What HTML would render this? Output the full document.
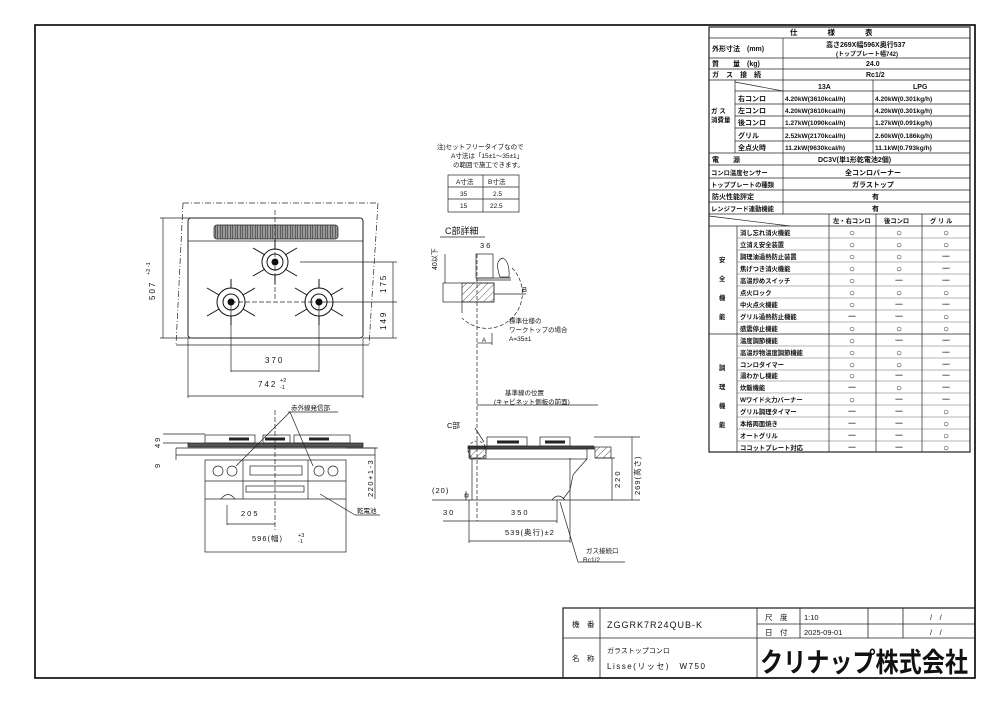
<!DOCTYPE html>
<html><head><meta charset="utf-8"><style>
html,body{margin:0;padding:0;background:#fff}
svg{display:block}
text{font-family:"Liberation Sans","Noto Sans CJK JP",sans-serif;fill:#111}
</style></head><body>
<svg width="1000" height="707" viewBox="0 0 1000 707" xmlns="http://www.w3.org/2000/svg">
<defs>
<pattern id="h" width="5" height="5" patternUnits="userSpaceOnUse" patternTransform="rotate(45)"><line x1="0" y1="0" x2="0" y2="5" stroke="#333" stroke-width="0.8"/></pattern>
<pattern id="v" width="2.5" height="4" patternUnits="userSpaceOnUse"><rect width="2.5" height="4" fill="#999"/><line x1="0" y1="0" x2="0" y2="4" stroke="#222" stroke-width="1"/></pattern>
</defs>
<rect x="35" y="25" width="940" height="653" fill="none" stroke="#000" stroke-width="1.6"/>

<!-- SPEC TABLE -->
<g stroke="#222" stroke-width="0.7" fill="none">
<rect x="709" y="27" width="261" height="425" stroke-width="1.2"/>
<line x1="709" y1="38" x2="970" y2="38"/><line x1="709" y1="58" x2="970" y2="58"/>
<line x1="709" y1="69" x2="970" y2="69"/><line x1="709" y1="80" x2="970" y2="80"/>
<line x1="735" y1="91" x2="970" y2="91"/><line x1="735" y1="104" x2="970" y2="104"/>
<line x1="735" y1="116" x2="970" y2="116"/><line x1="735" y1="128" x2="970" y2="128"/>
<line x1="735" y1="141" x2="970" y2="141"/><line x1="709" y1="153" x2="970" y2="153"/>
<line x1="709" y1="165" x2="970" y2="165"/><line x1="709" y1="178" x2="970" y2="178"/>
<line x1="709" y1="190" x2="970" y2="190"/><line x1="709" y1="202" x2="970" y2="202"/>
<line x1="709" y1="214" x2="970" y2="214"/><line x1="709" y1="226" x2="970" y2="226"/>
<line x1="783" y1="38" x2="783" y2="214"/><line x1="735" y1="80" x2="735" y2="153"/>
<line x1="873" y1="80" x2="873" y2="153"/>
<line x1="735" y1="82" x2="783" y2="91"/>
<line x1="709" y1="216" x2="790" y2="226"/>
<line x1="709" y1="334" x2="970" y2="334"/>
<line x1="737" y1="226" x2="737" y2="452"/><line x1="829" y1="214" x2="829" y2="452"/>
<line x1="876" y1="214" x2="876" y2="452"/><line x1="922" y1="214" x2="922" y2="452"/>
</g>
<g stroke="#444" stroke-width="0.4">
<line x1="737" y1="238" x2="970" y2="238"/><line x1="737" y1="250" x2="970" y2="250"/>
<line x1="737" y1="262" x2="970" y2="262"/><line x1="737" y1="274" x2="970" y2="274"/>
<line x1="737" y1="286" x2="970" y2="286"/><line x1="737" y1="298" x2="970" y2="298"/>
<line x1="737" y1="310" x2="970" y2="310"/><line x1="737" y1="322" x2="970" y2="322"/>
<line x1="737" y1="346" x2="970" y2="346"/><line x1="737" y1="358" x2="970" y2="358"/>
<line x1="737" y1="370" x2="970" y2="370"/><line x1="737" y1="381" x2="970" y2="381"/>
<line x1="737" y1="393" x2="970" y2="393"/><line x1="737" y1="405" x2="970" y2="405"/>
<line x1="737" y1="417" x2="970" y2="417"/><line x1="737" y1="429" x2="970" y2="429"/>
<line x1="737" y1="441" x2="970" y2="441"/>
</g>
<g font-size="7" font-weight="bold">
<text x="790" y="35" font-size="7.5">仕　　　　様　　　　表</text>
<text x="712" y="51">外形寸法　(mm)</text>
<text x="826" y="47" font-size="7">高さ269X幅596X奥行537</text>
<text x="836" y="56" font-size="6">(トッププレート幅742)</text>
<text x="712" y="66">質　　量　(kg)</text><text x="866" y="66">24.0</text>
<text x="712" y="77">ガ　ス　接　続</text><text x="866" y="77">Rc1/2</text>
<text x="818" y="89">13A</text><text x="913" y="89">LPG</text>
<text x="711" y="113" font-size="6.5">ガ ス</text><text x="711" y="122" font-size="6.5">消費量</text>
<text x="738" y="101">右コンロ</text><text x="738" y="113">左コンロ</text><text x="738" y="125">後コンロ</text><text x="738" y="138">グリル</text><text x="738" y="150">全点火時</text>
<text x="785" y="101" font-size="6.6">4.20kW(3610kcal/h)</text><text x="875" y="101" font-size="6.6">4.20kW(0.301kg/h)</text>
<text x="785" y="113" font-size="6.6">4.20kW(3610kcal/h)</text><text x="875" y="113" font-size="6.6">4.20kW(0.301kg/h)</text>
<text x="785" y="125" font-size="6.6">1.27kW(1090kcal/h)</text><text x="875" y="125" font-size="6.6">1.27kW(0.091kg/h)</text>
<text x="785" y="138" font-size="6.6">2.52kW(2170kcal/h)</text><text x="875" y="138" font-size="6.6">2.60kW(0.186kg/h)</text>
<text x="785" y="150" font-size="6.6">11.2kW(9630kcal/h)</text><text x="875" y="150" font-size="6.6">11.1kW(0.793kg/h)</text>
<text x="712" y="162">電　　源</text><text x="818" y="162">DC3V(単1形乾電池2個)</text>
<text x="711" y="175" font-size="6.3">コンロ温度センサー</text><text x="845" y="175">全コンロバーナー</text>
<text x="711" y="187" font-size="6.3">トッププレートの種類</text><text x="852" y="187">ガラストップ</text>
<text x="712" y="199">防火性能評定</text><text x="872" y="199">有</text>
<text x="711" y="211" font-size="6.3">レンジフード連動機能</text><text x="872" y="211">有</text>
<text x="833" y="223" font-size="6.3">左・右コンロ</text><text x="884" y="223" font-size="6.3">後コンロ</text><text x="930" y="223" font-size="6.3">グ リ ル</text>
</g>
<g font-size="6.3" font-weight="bold">
<text x="719" y="262">安</text><text x="719" y="281">全</text><text x="719" y="300">機</text><text x="719" y="319">能</text>
<text x="719" y="370">調</text><text x="719" y="389">理</text><text x="719" y="408">機</text><text x="719" y="427">能</text>
<text x="740" y="235">消し忘れ消火機能</text><text x="740" y="247">立消え安全装置</text><text x="740" y="259">調理油過熱防止装置</text>
<text x="740" y="271">焦げつき消火機能</text><text x="740" y="283">高温炒めスイッチ</text><text x="740" y="295">点火ロック</text>
<text x="740" y="307">中火点火機能</text><text x="740" y="319">グリル過熱防止機能</text><text x="740" y="331">感震停止機能</text>
<text x="740" y="343">温度調節機能</text><text x="740" y="355">高温炒物温度調節機能</text><text x="740" y="367">コンロタイマー</text>
<text x="740" y="378">湯わかし機能</text><text x="740" y="390">炊飯機能</text><text x="740" y="402">Wワイド火力バーナー</text>
<text x="740" y="414">グリル調理タイマー</text><text x="740" y="426">本格両面焼き</text><text x="740" y="438">オートグリル</text>
<text x="740" y="450">ココットプレート対応</text>
</g>
<g font-size="10" text-anchor="middle">
<text x="852" y="236">○</text><text x="899" y="236">○</text><text x="946" y="236">○</text>
<text x="852" y="248">○</text><text x="899" y="248">○</text><text x="946" y="248">○</text>
<text x="852" y="260">○</text><text x="899" y="260">○</text><text x="946" y="260">－</text>
<text x="852" y="272">○</text><text x="899" y="272">○</text><text x="946" y="272">－</text>
<text x="852" y="284">○</text><text x="899" y="284">－</text><text x="946" y="284">－</text>
<text x="852" y="296">○</text><text x="899" y="296">○</text><text x="946" y="296">○</text>
<text x="852" y="308">○</text><text x="899" y="308">－</text><text x="946" y="308">－</text>
<text x="852" y="320">－</text><text x="899" y="320">－</text><text x="946" y="320">○</text>
<text x="852" y="332">○</text><text x="899" y="332">○</text><text x="946" y="332">○</text>
<text x="852" y="344">○</text><text x="899" y="344">－</text><text x="946" y="344">－</text>
<text x="852" y="356">○</text><text x="899" y="356">○</text><text x="946" y="356">－</text>
<text x="852" y="368">○</text><text x="899" y="368">○</text><text x="946" y="368">－</text>
<text x="852" y="379">○</text><text x="899" y="379">－</text><text x="946" y="379">－</text>
<text x="852" y="391">－</text><text x="899" y="391">○</text><text x="946" y="391">－</text>
<text x="852" y="403">○</text><text x="899" y="403">－</text><text x="946" y="403">－</text>
<text x="852" y="415">－</text><text x="899" y="415">－</text><text x="946" y="415">○</text>
<text x="852" y="427">－</text><text x="899" y="427">－</text><text x="946" y="427">○</text>
<text x="852" y="439">－</text><text x="899" y="439">－</text><text x="946" y="439">○</text>
<text x="852" y="451">－</text><text x="899" y="451">－</text><text x="946" y="451">○</text>
</g>

<!-- TITLE BLOCK -->
<g stroke="#222" stroke-width="0.8" fill="none">
<polyline points="563,678 563,608 975,608" stroke-width="1.2"/>
<line x1="563" y1="638" x2="975" y2="638"/>
<line x1="757" y1="624" x2="975" y2="624"/>
<line x1="600" y1="608" x2="600" y2="678"/>
<line x1="757" y1="608" x2="757" y2="678"/>
<line x1="800" y1="608" x2="800" y2="638"/>
<line x1="868" y1="608" x2="868" y2="638"/>
<line x1="903" y1="608" x2="903" y2="638"/>
</g>
<g font-size="7.5">
<text x="572" y="627">機　番</text><text x="607" y="628" font-size="9" letter-spacing="1">ZGGRK7R24QUB-K</text>
<text x="765" y="620">尺　度</text><text x="804" y="620">1:10</text><text x="930" y="620">/　/</text>
<text x="765" y="635">日　付</text><text x="804" y="635">2025-09-01</text><text x="930" y="635">/　/</text>
<text x="572" y="661">名　称</text><text x="607" y="653" font-size="7">ガラストップコンロ</text>
<text x="607" y="669" font-size="8" letter-spacing="1.5">Lisse(リッセ)　W750</text>
<text x="760" y="672" font-size="27" font-weight="bold" fill="#000" textLength="208" lengthAdjust="spacingAndGlyphs">クリナップ株式会社</text>
</g>

<!-- TOP VIEW -->
<g stroke="#222" stroke-width="0.7" fill="none">
<polyline points="183,203 378,203" stroke-dasharray="6,2,1,2"/>
<line x1="176" y1="345" x2="369" y2="345"/>
<line x1="183" y1="203" x2="176" y2="345" stroke-dasharray="6,2,1,2"/>
<line x1="378" y1="203" x2="369" y2="345" stroke-dasharray="6,2,1,2"/>
<rect x="188" y="218" width="175" height="120" rx="3" stroke-width="1"/>
<line x1="188" y1="241" x2="363" y2="241"/>
<rect x="214" y="225" width="124" height="14" rx="3" fill="url(#v)"/>
<line x1="275" y1="210" x2="275" y2="300" stroke-dasharray="5,2"/>
<line x1="231" y1="302" x2="319" y2="302" stroke-dasharray="5,2"/>
<line x1="163" y1="218" x2="163" y2="338"/><line x1="160" y1="218" x2="190" y2="218"/><line x1="160" y1="338" x2="190" y2="338"/>
<line x1="300" y1="262" x2="397" y2="262"/><line x1="319" y1="302" x2="397" y2="302"/><line x1="363" y1="338" x2="397" y2="338"/>
<line x1="393" y1="262" x2="393" y2="338"/>
<line x1="231" y1="302" x2="231" y2="372"/><line x1="319" y1="302" x2="319" y2="372"/><line x1="231" y1="371" x2="319" y2="371"/>
<line x1="188" y1="338" x2="188" y2="398"/><line x1="363" y1="338" x2="363" y2="398"/><line x1="188" y1="396" x2="363" y2="396"/>
</g>
<g stroke="#111" stroke-width="1" fill="none">
<circle cx="275" cy="262" r="13"/><circle cx="275" cy="262" r="8"/><circle cx="275" cy="262" r="3" fill="#111"/>
<path d="M253,248 L265,255 M297,248 L285,255 M253,276 L265,269 M297,276 L285,269 M275,240 V249 M275,275 V284"/>
<circle cx="231" cy="302" r="14"/><circle cx="231" cy="302" r="8"/><circle cx="231" cy="302" r="3" fill="#111"/>
<path d="M207,288 L219,295 M255,288 L243,295 M207,316 L219,309 M255,316 L243,309 M231,279 V288 M231,316 V325"/>
<circle cx="319" cy="302" r="14"/><circle cx="319" cy="302" r="8"/><circle cx="319" cy="302" r="3" fill="#111"/>
<path d="M295,288 L307,295 M343,288 L331,295 M295,316 L307,309 M343,316 L331,309 M319,279 V288 M319,316 V325"/>
</g>
<g font-size="8">
<text x="265" y="363" letter-spacing="2">370</text>
<text x="258" y="387" letter-spacing="2">742</text><text x="280" y="382" font-size="5.5">+2</text><text x="280" y="389" font-size="5.5">-1</text>
<text transform="translate(155,300) rotate(-90)" letter-spacing="2">507</text><text transform="translate(150,275) rotate(-90)" font-size="5.5">+2 -1</text>
<text transform="translate(386,293) rotate(-90)" letter-spacing="2">175</text>
<text transform="translate(386,330) rotate(-90)" letter-spacing="2">149</text>
</g>

<!-- FRONT VIEW -->
<g stroke="#222" stroke-width="0.7" fill="none">
<rect x="188" y="443" width="175" height="4" fill="#555"/>
<rect x="205" y="435" width="50" height="8"/><rect x="263" y="435" width="27" height="8"/><rect x="294" y="435" width="56" height="8"/>
<path d="M229,439 h20 M265,439 h20 M309,439 h20" stroke-width="3" stroke="#222"/>
<line x1="163" y1="434" x2="205" y2="434"/><line x1="163" y1="443" x2="190" y2="443"/>
<line x1="176" y1="448" x2="176" y2="460"/><line x1="176" y1="448" x2="375" y2="448"/><line x1="176" y1="455" x2="375" y2="455"/>
<rect x="205" y="460" width="141" height="92"/>
<line x1="205" y1="481" x2="346" y2="481"/><line x1="205" y1="499" x2="346" y2="499"/>
<line x1="243" y1="460" x2="243" y2="499"/><line x1="308" y1="460" x2="308" y2="499"/>
<rect x="250" y="466" width="52" height="9"/><rect x="246" y="486" width="58" height="6"/>
<circle cx="218" cy="471" r="5"/><circle cx="232" cy="471" r="5"/><circle cx="319" cy="471" r="5"/><circle cx="333" cy="471" r="5"/>
<line x1="275" y1="410" x2="275" y2="530" stroke-dasharray="5,2"/>
<line x1="227" y1="505" x2="227" y2="525"/><line x1="227" y1="524" x2="275" y2="524"/>
<path d="M221,499 Q228,490 235,499"/>
<line x1="290" y1="412" x2="236" y2="466"/><line x1="290" y1="412" x2="313" y2="466"/>
<line x1="288" y1="412" x2="338" y2="412"/>
<line x1="320" y1="494" x2="355" y2="515"/><line x1="355" y1="515" x2="380" y2="515"/>
<line x1="346" y1="448" x2="378" y2="448"/><line x1="375" y1="448" x2="375" y2="499"/>
</g>
<g font-size="7.5">
<text x="291" y="410" font-size="6.5">赤外線発信部</text>
<text transform="translate(160,448) rotate(-90)" letter-spacing="2">49</text>
<text transform="translate(160,468) rotate(-90)">9</text>
<text x="241" y="516" letter-spacing="2">205</text>
<text x="252" y="541" letter-spacing="1">596(幅)</text><text x="298" y="537" font-size="5.5">+3</text><text x="298" y="543" font-size="5.5">-1</text>
<text transform="translate(373,497) rotate(-90)" letter-spacing="1.5">220+1-3</text>
<text x="357" y="513" font-size="6.5">乾電池</text>
</g>

<!-- NOTE & A/B TABLE -->
<g font-size="6.5">
<text x="437" y="149">注)セットフリータイプなので</text>
<text x="451" y="158">A寸法は「15±1～35±1」</text>
<text x="453" y="167">の範囲で施工できます。</text>
<text x="456" y="184">A寸法</text><text x="488" y="184">B寸法</text>
<text x="460" y="196">35</text><text x="493" y="196">2.5</text>
<text x="460" y="208">15</text><text x="490" y="208">22.5</text>
</g>
<g stroke="#222" stroke-width="0.7" fill="none">
<rect x="448" y="175" width="71" height="37"/>
<line x1="448" y1="187" x2="519" y2="187"/><line x1="448" y1="199" x2="519" y2="199"/><line x1="483" y1="175" x2="483" y2="212"/>
</g>

<!-- C DETAIL -->
<g stroke="#222" stroke-width="0.7" fill="none">
<line x1="440" y1="237" x2="485" y2="237"/>
<rect x="476" y="254" width="17" height="24"/>
<path d="M500,277 Q494,260 503,258 Q510,262 509,277 Z"/>
<line x1="476" y1="278" x2="511" y2="278"/><line x1="476" y1="280" x2="511" y2="280"/>
<rect x="443" y="283" width="51" height="19"/>
<rect x="462" y="283" width="32" height="19" fill="url(#h)"/>
<line x1="494" y1="294" x2="526" y2="294"/>
<path d="M512,268 A30,30 0 0 1 462,318" stroke-dasharray="4,2"/>
<line x1="462" y1="302" x2="462" y2="313"/>
<line x1="477" y1="254" x2="477" y2="400" stroke-dasharray="4,2"/>
<line x1="445" y1="254" x2="445" y2="283"/>
<line x1="477" y1="343" x2="492" y2="343"/><line x1="492" y1="333" x2="492" y2="345"/>
</g>
<g font-size="7.5">
<text x="445" y="234" font-size="9">C部詳細</text>
<text x="480" y="248" letter-spacing="2">36</text>
<text transform="translate(437,270) rotate(-90)" font-size="7">40以下</text>
<text x="522" y="292">B</text>
<text x="509" y="323" font-size="6.5">標準仕様の</text>
<text x="509" y="332" font-size="6.5">ワークトップの場合</text>
<text x="509" y="341" font-size="6.5">A=35±1</text>
<text x="482" y="342" font-size="6">A</text>
</g>

<!-- SIDE VIEW -->
<g stroke="#222" stroke-width="0.7" fill="none">
<line x1="477" y1="400" x2="477" y2="521" stroke-dasharray="4,2"/>
<line x1="477" y1="405" x2="598" y2="405"/>
<line x1="475" y1="428" x2="484" y2="442"/>
<rect x="487" y="437" width="40" height="9"/><rect x="540" y="437" width="30" height="9"/>
<path d="M497,442 h22 M545,442 h20" stroke-width="3"/>
<rect x="468" y="446" width="126" height="3" fill="#444"/>
<rect x="470" y="449" width="117" height="10"/>
<rect x="469" y="447" width="17" height="11" fill="url(#h)"/>
<rect x="595" y="447" width="16" height="11" fill="url(#h)"/>
<circle cx="477" cy="450" r="9" stroke-dasharray="3,2"/>
<path d="M472,458 V500 M587,459 Q577,470 573,475 L570,490 L563,499"/>
<path d="M552,500 Q558,492 565,500"/>
<line x1="432" y1="500" x2="640" y2="500"/>
<line x1="466" y1="491" x2="466" y2="500"/><rect x="465" y="494" width="3" height="3"/>
<line x1="443" y1="521" x2="557" y2="521"/><line x1="557" y1="500" x2="557" y2="523"/>
<line x1="469" y1="500" x2="469" y2="543"/><line x1="469" y1="541" x2="570" y2="541"/>
<line x1="570" y1="458" x2="570" y2="543"/>
<line x1="560" y1="502" x2="578" y2="562"/><line x1="578" y1="562" x2="625" y2="562"/>
<line x1="594" y1="437" x2="640" y2="437"/><line x1="595" y1="458" x2="615" y2="458"/>
<line x1="612" y1="458" x2="612" y2="500"/><line x1="632" y1="437" x2="632" y2="500"/>
</g>
<g font-size="7.5">
<text x="505" y="395" font-size="6.5">基準線の位置</text>
<text x="494" y="404" font-size="6.5">(キャビネット側板の前面)</text>
<text x="447" y="428">C部</text>
<text x="432" y="493" letter-spacing="1">(20)</text>
<text x="443" y="515" letter-spacing="2">30</text>
<text x="511" y="515" letter-spacing="2">350</text>
<text x="505" y="535" letter-spacing="1">539(奥行)±2</text>
<text x="586" y="553" font-size="6.5">ガス接続口</text>
<text x="583" y="562" font-size="6.5">Rc1/2</text>
<text transform="translate(620,488) rotate(-90)" letter-spacing="2">220</text>
<text transform="translate(640,495) rotate(-90)" letter-spacing="1">269(高さ)</text>
</g>
</svg>
</body></html>
